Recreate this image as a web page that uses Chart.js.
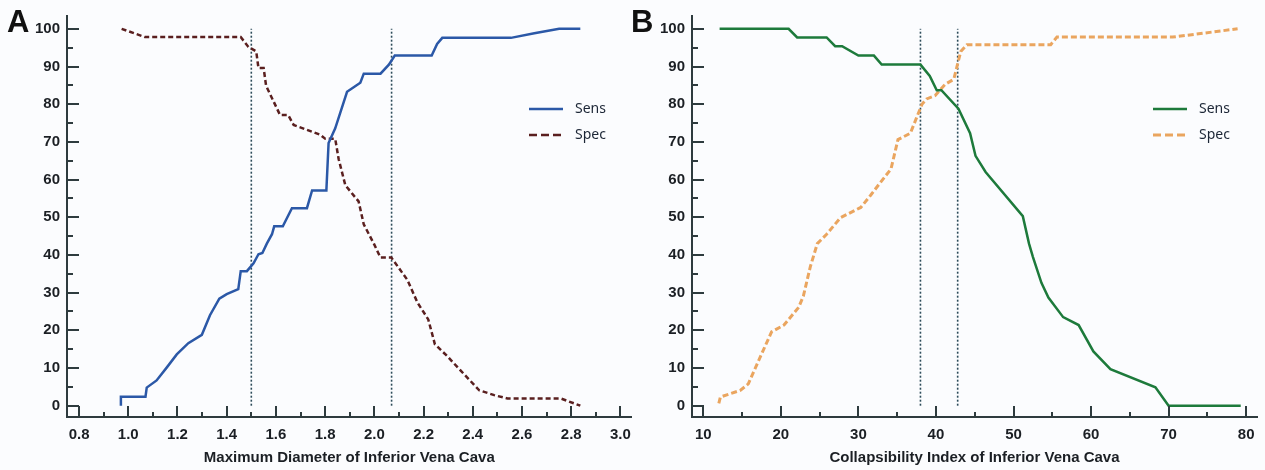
<!DOCTYPE html>
<html>
<head>
<meta charset="utf-8">
<script src="https://cdn.jsdelivr.net/npm/chart.js@4.4.1/dist/chart.umd.min.js"></script>
<style>
  body { margin: 0; background: #fbfcfe; }
  #wrap { position: relative; width: 1265px; height: 470px; overflow: hidden; }
  .panel { position: absolute; top: 0; height: 470px; }
  #pa { left: 0; width: 640px; }
  #pb { left: 626px; width: 639px; }
</style>
</head>
<body>
<div id="wrap">
  <div class="panel" id="pa"><canvas id="chart-a"></canvas></div>
  <div class="panel" id="pb"><canvas id="chart-b"></canvas></div>
</div>
<script>
// ---- data ----
const yTicks = [0, 10, 20, 30, 40, 50, 60, 70, 80, 90, 100];

// panel A: maximum diameter of IVC
const xTicksA = [0.8, 1.0, 1.2, 1.4, 1.6, 1.8, 2.0, 2.2, 2.4, 2.6, 2.8, 3.0];
const sensAx = [0.97, 0.97, 1.07, 1.075, 1.115, 1.156, 1.197, 1.244, 1.299, 1.332, 1.37, 1.40, 1.447, 1.457, 1.482,
  1.509, 1.529, 1.545, 1.563, 1.584, 1.593, 1.628, 1.665, 1.726, 1.747, 1.805, 1.814, 1.841, 1.889, 1.943, 1.957,
  2.025, 2.059, 2.083, 2.233, 2.255, 2.276, 2.555, 2.65, 2.751, 2.837];
const sensAy = [0, 2.4, 2.4, 4.8, 6.7, 10.1, 13.6, 16.6, 18.8, 24, 28.4, 29.6, 30.9, 35.7, 35.7,
  37.8, 40.2, 40.5, 43, 45.5, 47.6, 47.6, 52.4, 52.4, 57.1, 57.1, 69.7, 73.6, 83.3, 85.7, 88.1,
  88.1, 90.5, 92.9, 92.9, 96, 97.6, 97.6, 98.8, 100, 100];
const specAx = [0.973, 1.068, 1.457, 1.488, 1.52, 1.529, 1.55, 1.56, 1.617, 1.65, 1.672, 1.726, 1.78, 1.801, 1.841,
  1.855, 1.882, 1.936, 1.957, 1.998, 2.025, 2.069, 2.134, 2.175, 2.219, 2.246, 2.297, 2.351, 2.426, 2.487, 2.541,
  2.758, 2.837];
const specAy = [100, 97.8, 97.8, 95.2, 94, 89.6, 89.6, 84.9, 77.1, 77.1, 74.5, 73.2, 71.9, 70.8, 70.8,
  65.4, 58.5, 54.2, 48.1, 43, 39.3, 39.3, 33.4, 27.4, 22.9, 16.3, 13.1, 9.3, 4.1, 2.8, 1.9,
  1.9, 0];
const cutA = [1.5, 2.07];

// panel B: collapsibility index of IVC
const xTicksB = [10, 20, 30, 40, 50, 60, 70, 80];
const sensBx = [12.1, 21.0, 22.1, 25.9, 27.0, 27.9, 30.0, 32.0, 33.0, 38.0, 39.2, 40.1, 40.7, 42.9, 44.4,
  45.1, 46.4, 51.2, 52.0, 52.5, 53.6, 54.5, 56.4, 58.4, 60.3, 62.5, 68.3, 70.0, 79.3];
const sensBy = [100, 100, 97.7, 97.7, 95.4, 95.4, 92.9, 92.9, 90.5, 90.5, 87.5, 83.7, 83.7, 78.8, 72.3,
  66.3, 62, 50.3, 43, 39.5, 32.6, 28.7, 23.5, 21.4, 14.4, 9.7, 4.9, 0, 0];
const specBx = [12.0, 12.2, 13.5, 14.8, 15.8, 17.1, 18.8, 20.4, 22.3, 22.9, 23.8, 24.7, 25.9, 27.7, 30.3,
  31.6, 32.9, 34.2, 35.1, 36.7, 38.2, 38.8, 39.9, 41.2, 42.3, 43.2, 44.0, 54.8, 55.6, 70.5, 78.9];
const specBy = [0.6, 2.3, 3.2, 4.1, 5.8, 11.8, 19.6, 21.4, 26.1, 29.1, 36.9, 43, 45.5, 49.9, 52.6,
  55.9, 59.4, 62.8, 70.6, 72.3, 80, 81.4, 82.3, 85.3, 86.6, 94, 95.8, 95.8, 97.8, 97.8, 100];
const cutB = [38, 42.8];

// ---- styling ----
const AXIS = '#2e3b3e';
const TEXT = '#1b1f24';
const CUT = '#2c4b5a';

const pts = (xs, ys) => xs.map((x, i) => ({ x, y: ys[i] }));
const midpoints = arr => arr.slice(1).map((v, i) => (v + arr[i]) / 2);

// inward ticks, panel letter and legend
const decor = {
  id: 'decor',
  afterDraw(chart, args, o) {
    const { ctx, chartArea: ca, scales: { x, y } } = chart;
    ctx.save();
    ctx.strokeStyle = AXIS;
    ctx.lineWidth = 2;
    ctx.setLineDash([]);
    ctx.beginPath();
    x.ticks.forEach(t => {
      const px = Math.round(x.getPixelForValue(t.value));
      ctx.moveTo(px, ca.bottom); ctx.lineTo(px, ca.bottom - 11);
    });
    midpoints(x.ticks.map(t => t.value)).forEach(v => {
      const px = Math.round(x.getPixelForValue(v));
      ctx.moveTo(px, ca.bottom); ctx.lineTo(px, ca.bottom - 5);
    });
    y.ticks.forEach(t => {
      const py = Math.round(y.getPixelForValue(t.value));
      ctx.moveTo(ca.left, py); ctx.lineTo(ca.left + 12, py);
    });
    midpoints(y.ticks.map(t => t.value)).forEach(v => {
      const py = Math.round(y.getPixelForValue(v));
      ctx.moveTo(ca.left, py); ctx.lineTo(ca.left + 6, py);
    });
    ctx.stroke();

    // panel letter
    ctx.fillStyle = '#111';
    ctx.font = 'bold 31px "Liberation Sans", Arial, sans-serif';
    ctx.textBaseline = 'alphabetic';
    ctx.textAlign = 'left';
    ctx.fillText(o.letter, o.letterX, 32);

    // legend
    ctx.font = '14px "Noto Sans", sans-serif';
    ctx.textBaseline = 'middle';
    let ly = o.legendY;
    chart.data.datasets.filter(d => d.label).forEach(d => {
      ctx.strokeStyle = d.borderColor;
      ctx.lineWidth = d.borderWidth;
      ctx.setLineDash(d.legendDash || []);
      ctx.beginPath();
      ctx.moveTo(o.legendX, ly); ctx.lineTo(o.legendX + 34, ly);
      ctx.stroke();
      ctx.fillStyle = '#1c2636';
      ctx.fillText(d.label, o.legendX + 46, ly);
      ly += 26;
    });
    ctx.restore();
  }
};

function makePanel(id, cfg) {
  const datasets = [
    { label: 'Sens', data: pts(cfg.sensX, cfg.sensY), borderColor: cfg.sensColor, borderWidth: 2.5 },
    { label: 'Spec', data: pts(cfg.specX, cfg.specY), borderColor: cfg.specColor, borderWidth: cfg.specWidth,
      borderDash: cfg.specDash, legendDash: cfg.legendDash }
  ];
  cfg.cuts.forEach(c => datasets.push({
    data: [{ x: c, y: 0 }, { x: c, y: 100 }], borderColor: CUT, borderWidth: 1.6, borderDash: [2, 2]
  }));
  datasets.forEach(d => { d.pointRadius = 0; d.tension = 0; d.fill = false; });

  return new Chart(document.getElementById(id), {
    type: 'line',
    data: { datasets },
    options: {
      responsive: true,
      maintainAspectRatio: false,
      animation: false,
      layout: { padding: { top: 7, right: cfg.padRight, left: 0, bottom: 0 } },
      plugins: {
        legend: { display: false },
        tooltip: { enabled: false },
        decor: { letter: cfg.letter, letterX: cfg.letterX, legendX: cfg.legendX, legendY: 109 }
      },
      scales: {
        x: {
          type: 'linear',
          min: cfg.xMin, max: cfg.xMax,
          afterBuildTicks: s => { s.ticks = cfg.xTicks.map(v => ({ value: v })); },
          afterFit: s => { s.height = 53; },
          grid: { display: false, drawTicks: false },
          border: { display: true, color: AXIS, width: 2 },
          ticks: {
            autoSkip: false, maxRotation: 0, padding: 9, color: TEXT,
            font: { family: '"Liberation Sans", Arial, sans-serif', size: 15, weight: 'bold' },
            callback: cfg.fmt
          },
          title: {
            display: true, text: cfg.title, color: TEXT, padding: { top: 0, bottom: 3 },
            font: { family: '"Liberation Sans", Arial, sans-serif', size: 15, weight: 'bold' }
          }
        },
        y: {
          min: -3, max: 103.4,
          afterBuildTicks: s => { s.ticks = yTicks.map(v => ({ value: v })); },
          afterFit: s => { s.width = cfg.yWidth; },
          grid: { display: false, drawTicks: false },
          border: { display: true, color: AXIS, width: 2 },
          ticks: {
            autoSkip: false, padding: 7, color: TEXT,
            font: { family: '"Liberation Sans", Arial, sans-serif', size: 15, weight: 'bold' }
          }
        }
      }
    },
    plugins: [decor]
  });
}

makePanel('chart-a', {
  letter: 'A', letterX: 7, legendX: 529, padRight: 7, yWidth: 67,
  xMin: 0.751, xMax: 3.045, xTicks: xTicksA, fmt: v => v.toFixed(1),
  title: 'Maximum Diameter of Inferior Vena Cava',
  sensX: sensAx, sensY: sensAy, specX: specAx, specY: specAy, cuts: cutA,
  sensColor: '#2b58a7', specColor: '#5a1f1f', specWidth: 2.5, specDash: [5, 3], legendDash: [8, 4]
});

makePanel('chart-b', {
  letter: 'B', letterX: 5, legendX: 527, padRight: 8, yWidth: 66,
  xMin: 8.54, xMax: 81.4, xTicks: xTicksB, fmt: v => String(v),
  title: 'Collapsibility Index of Inferior Vena Cava',
  sensX: sensBx, sensY: sensBy, specX: specBx, specY: specBy, cuts: cutB,
  sensColor: '#1d7a3b', specColor: '#eaa55f', specWidth: 3, specDash: [6, 3], legendDash: [8, 4]
});
</script>
</body>
</html>
